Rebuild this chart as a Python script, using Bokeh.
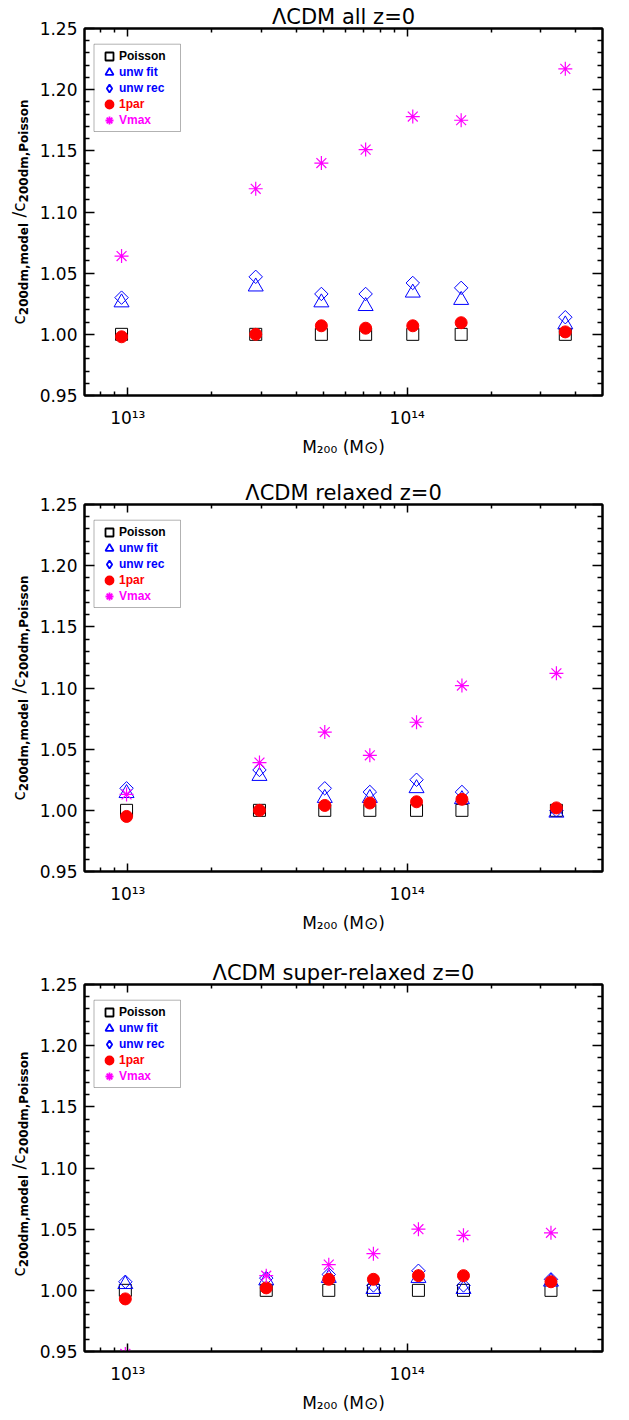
import math
from bokeh.plotting import figure
from bokeh.models import (FixedTicker, LogAxis, LinearAxis, Range1d, PrintfTickFormatter,
                          CustomJSTickFormatter, Label, Legend, LegendItem, BoxAnnotation)
from bokeh.layouts import column, row
from bokeh.embed import file_html
from bokeh.resources import INLINE

# ---------------- data ----------------
titles = ["\u039bCDM all z=0", "\u039bCDM relaxed z=0", "\u039bCDM super-relaxed z=0"]
x_label = "M\u2082\u2080\u2080 (M\u2299)"
series_names = ["Poisson", "unw fit", "unw rec", "1par", "Vmax"]

mass_all = [9.5e12, 2.87e13, 4.93e13, 7.1e13, 1.047e14, 1.56e14, 3.68e14]
poisson_all = [1.0, 1.0, 1.0, 1.0, 1.0, 1.0, 1.0]
fit_all = [1.026, 1.039, 1.026, 1.023, 1.034, 1.028, 1.008]
rec_all = [1.030, 1.047, 1.033, 1.033, 1.042, 1.038, 1.014]
par1_all = [0.998, 1.000, 1.007, 1.005, 1.007, 1.0095, 1.002]
vmax_all = [1.064, 1.119, 1.140, 1.151, 1.178, 1.175, 1.217]

mass_rel = [9.9e12, 2.96e13, 5.07e13, 7.35e13, 1.08e14, 1.57e14, 3.42e14]
poisson_rel = [1.0, 1.0, 1.0, 1.0, 1.0, 1.0, 1.0]
fit_rel = [1.014, 1.028, 1.010, 1.010, 1.018, 1.009, 0.998]
rec_rel = [1.018, 1.033, 1.018, 1.015, 1.025, 1.015, 1.000]
par1_rel = [0.995, 1.000, 1.004, 1.006, 1.007, 1.009, 1.002]
vmax_rel = [1.013, 1.039, 1.064, 1.045, 1.072, 1.102, 1.112]

mass_sup = [9.8e12, 3.13e13, 5.24e13, 7.57e13, 1.097e14, 1.59e14, 3.27e14]
poisson_sup = [1.0, 1.0, 1.0, 1.0, 1.0, 1.0, 1.0]
fit_sup = [1.005, 1.008, 1.010, 1.001, 1.010, 1.001, 1.007]
rec_sup = [1.007, 1.010, 1.013, 1.004, 1.016, 1.004, 1.009]
par1_sup = [0.993, 1.002, 1.009, 1.009, 1.012, 1.012, 1.007]
vmax_sup = [0.948, 1.012, 1.021, 1.030, 1.050, 1.045, 1.047]

x_major_ticks = [1e13, 1e14]
x_minor_ticks = [8e12, 9e12, 2e13, 3e13, 4e13, 5e13, 6e13, 7e13, 8e13, 9e13, 2e14, 3e14, 4e14]
y_major_ticks = [0.95, 1.00, 1.05, 1.10, 1.15, 1.20, 1.25]
y_minor_ticks = [round(0.95 + 0.01 * i, 2) for i in range(31) if i % 5]

# ---------------- layout / style ----------------
FRAME_W, FRAME_H = 518, 367
BL, BR = 48, 11
TOP_EST = 28                    # estimated height of title + top axis panel
YLAB_W = 36
FONT = "DejaVu Sans"
LEG_FONT = "Liberation Sans"
colors = ["black", "#0000ff", "#0000ff", "#ff0000", "#ff00ff"]

W_NORMAL = {" ": .318, "/": .337, "c": .550}
W_BOLD = {"d": .716, "m": 1.042, ",": .380, "o": .687, "e": .678, "l": .343, "P": .733,
          "i": .343, "s": .595, "n": .712}


def text_width(txt, size, bold):
    tot = 0.0
    for ch in txt:
        if ch.isdigit():
            tot += .696 if bold else .636
        else:
            tot += (W_BOLD if bold else W_NORMAL).get(ch, .6)
    return tot * size


def label(p, x, y, txt, size, style="normal", angle=0.0):
    p.add_layout(Label(x=x, y=y, x_units="screen", y_units="screen", text=txt,
                       text_font=FONT, text_font_size=f"{size}px", text_font_style=style,
                       angle=angle, text_align="left", text_baseline="alphabetic",
                       text_color="black"))


def text_fig(width, height, top, bottom):
    # frame placed exactly like the main plot's frame (same top / bottom borders)
    f = figure(width=width, height=height, x_range=Range1d(0, 1), y_range=Range1d(0, 1),
               toolbar_location=None, output_backend="svg",
               min_border_left=0, min_border_right=0,
               min_border_top=top, min_border_bottom=bottom,
               x_axis_location=None, y_axis_location=None, outline_line_color=None,
               title_location=None,
               background_fill_color="white", border_fill_color="white")
    f.grid.visible = False
    return f


def place_pieces(f, pieces, start, base):
    pos = start
    for t, s, st, off in pieces:
        bold = st == "bold"
        lead = len(t) - len(t.lstrip(" "))
        pos += text_width(" " * lead, s, bold)
        core = t.strip(" ")
        if core:
            label(f, base + off, pos, core, s, style=st, angle=math.pi / 2)
        pos += text_width(core, s, bold)


def pieces_len(pieces):
    return sum(text_width(t, s, st == "bold") for t, s, st, _ in pieces)


blank_fmt = CustomJSTickFormatter(code="return ''")
sup_fmt = CustomJSTickFormatter(code="""
const m = {"0":"\u2070","1":"\u00b9","2":"\u00b2","3":"\u00b3","4":"\u2074","5":"\u2075","6":"\u2076","7":"\u2077","8":"\u2078","9":"\u2079","-":"\u207b"};
const e = Math.round(Math.log10(tick));
return "10" + String(e).split("").map(c => m[c]).join("");
""")


def style_axis(ax, major_len, minor_len, labels):
    ax.axis_line_width = 2
    ax.axis_line_color = "black"
    ax.major_tick_in = major_len
    ax.major_tick_out = 0
    ax.minor_tick_in = minor_len
    ax.minor_tick_out = 0
    ax.major_tick_line_width = 1.5
    ax.minor_tick_line_width = 1.5
    ax.major_tick_line_color = "black"
    ax.minor_tick_line_color = "black"
    if labels:
        ax.major_label_text_font = FONT
        ax.major_label_text_font_size = "17px"
        ax.major_label_text_color = "black"
    else:
        ax.formatter = blank_fmt
        ax.major_label_text_font_size = "1px"
        ax.major_label_text_alpha = 0
        ax.major_label_standoff = 0


def make_panel(title, mass, poisson, fit, rec, par1, vmax, bottom_border):
    xticker = FixedTicker(ticks=x_major_ticks, minor_ticks=x_minor_ticks)
    yticker = FixedTicker(ticks=y_major_ticks, minor_ticks=y_minor_ticks)
    p = figure(frame_width=FRAME_W, frame_height=FRAME_H, x_axis_type="log",
               x_range=Range1d(7e12, 5e14), y_range=Range1d(0.95, 1.25),
               min_border_left=BL, min_border_right=BR, min_border_top=0,
               min_border_bottom=bottom_border, toolbar_location=None,
               output_backend="svg", background_fill_color="white",
               border_fill_color="white")
    p.title.text = title
    p.title.align = "center"
    p.title.text_font = FONT
    p.title.text_font_size = "21px"
    p.title.text_font_style = "normal"
    p.title.text_color = "black"
    p.title.standoff = 0
    p.grid.visible = False
    p.outline_line_color = "black"
    p.outline_line_width = 2

    xa = p.xaxis[0]
    xa.ticker = xticker
    xa.formatter = sup_fmt
    style_axis(xa, 8, 4, True)
    xa.major_label_standoff = 12
    xa.axis_label = x_label
    xa.axis_label_text_font = FONT
    xa.axis_label_text_font_size = "17px"
    xa.axis_label_text_font_style = "normal"
    xa.axis_label_text_color = "black"
    xa.axis_label_standoff = 6

    ya = p.yaxis[0]
    ya.ticker = yticker
    ya.formatter = PrintfTickFormatter(format="%.2f")
    style_axis(ya, 10, 5, True)
    ya.major_label_standoff = 7

    top = LogAxis(ticker=xticker)
    style_axis(top, 8, 4, False)
    p.add_layout(top, "above")
    right = LinearAxis(ticker=yticker)
    style_axis(right, 10, 5, False)
    p.add_layout(right, "right")

    ys = [poisson, fit, rec, par1, vmax]
    p.scatter(mass, poisson, marker="square", size=12, fill_color=None,
              line_color=colors[0], line_width=1)
    p.scatter(mass, fit, marker="triangle", size=15, fill_color=None,
              line_color=colors[1], line_width=1)
    p.scatter(mass, rec, marker="square", angle=math.pi / 4, size=9.5,
              fill_color=None, line_color=colors[2], line_width=1)
    p.scatter(mass, par1, marker="circle", size=12, fill_color=colors[3],
              line_color=colors[3], line_width=1)
    p.scatter(mass, vmax, marker="asterisk", size=14, line_color=colors[4],
              line_width=1.2)

    # key glyphs: zero-size copies of each series (the legend draws its own size)
    leg_markers = ["square", "triangle", "diamond", "circle", "asterisk"]
    leg_rends = []
    for yv, mk, col in zip(ys, leg_markers, colors):
        fill = col if mk == "circle" else None
        leg_rends.append(p.scatter(mass, yv, marker=mk, size=0, fill_color=fill,
                                   line_color=col, line_width=1.8))

    p.add_layout(BoxAnnotation(left=9.5, right=96, top=FRAME_H - 15.7, bottom=FRAME_H - 103,
                               left_units="screen", right_units="screen",
                               top_units="screen", bottom_units="screen",
                               fill_alpha=0, line_color="black", line_width=1))
    for i, (r, name, col) in enumerate(zip(leg_rends, series_names, colors)):
        yc = FRAME_H - 27.7 - 16 * i
        leg = Legend(items=[LegendItem(label=name, renderers=[r])],
                     location=(15, yc - 10), glyph_width=20, glyph_height=20,
                     label_standoff=0, padding=0, margin=0, spacing=0,
                     label_height=20, border_line_color=None,
                     background_fill_alpha=0, label_text_color=col,
                     label_text_font=LEG_FONT, label_text_font_style="bold",
                     label_text_font_size="12px")
        p.add_layout(leg)

    # y axis label strip:  c_200dm,model / c_200dm,Poisson  (centred on the frame)
    panel_h = TOP_EST + FRAME_H + bottom_border
    yfig = text_fig(YLAB_W, panel_h, TOP_EST, bottom_border)
    ypieces = [("c", 17, "normal", 0), ("200dm,model", 12, "bold", 5),
               (" /", 17, "normal", 0), ("c", 17, "normal", 0),
               ("200dm,Poisson", 12, "bold", 5)]
    L = pieces_len(ypieces)
    place_pieces(yfig, ypieces, FRAME_H / 2 - L / 2, 18.5)

    return row(yfig, p)


panel1 = make_panel(titles[0], mass_all, poisson_all, fit_all, rec_all, par1_all, vmax_all, 81)
panel2 = make_panel(titles[1], mass_rel, poisson_rel, fit_rel, rec_rel, par1_rel, vmax_rel, 85)
panel3 = make_panel(titles[2], mass_sup, poisson_sup, fit_sup, rec_sup, par1_sup, vmax_sup, 60)

page = column(panel1, panel2, panel3)
open("out.html", "w").write(file_html(page, INLINE))
